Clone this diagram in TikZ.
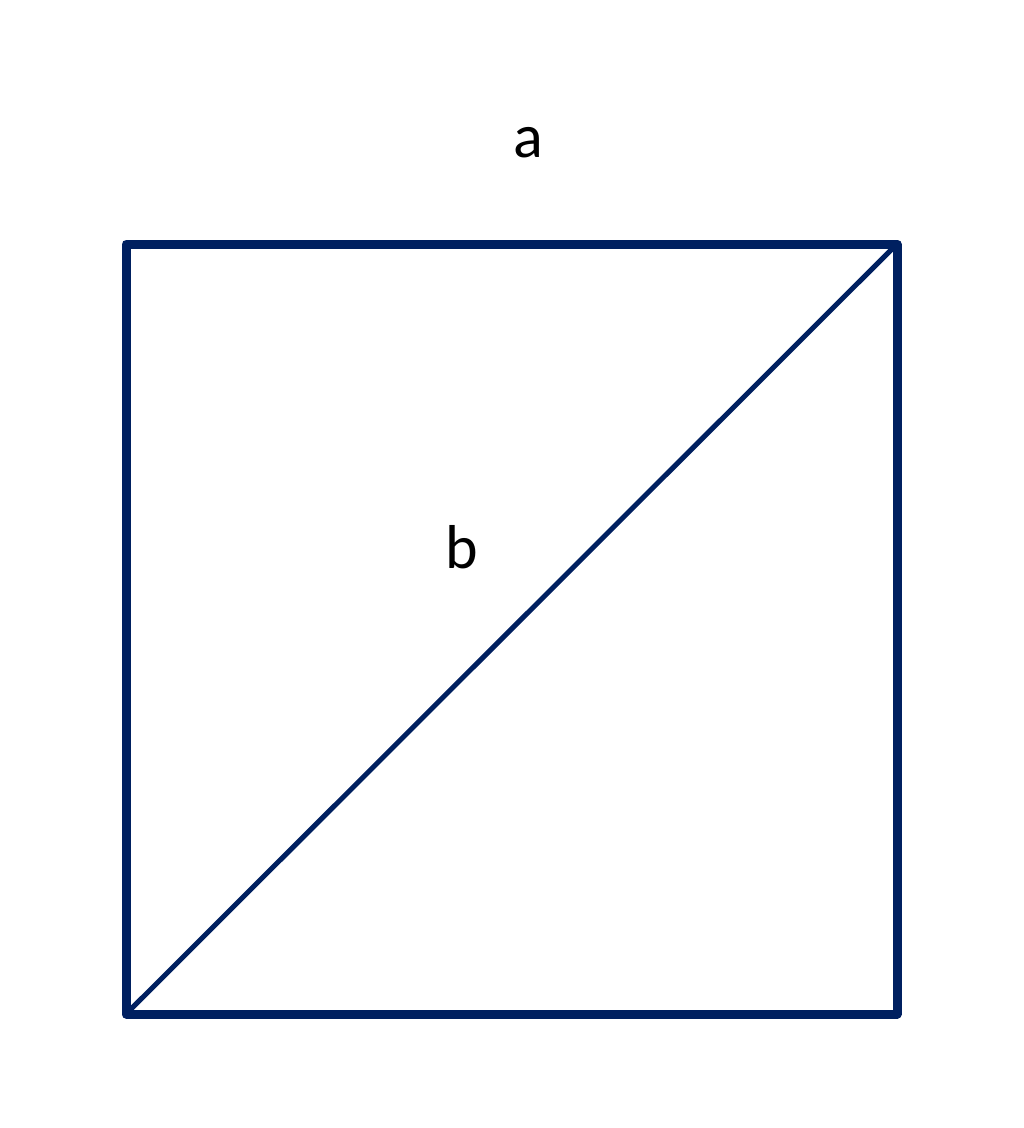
\documentclass[tikz,border=0pt]{standalone}
\usepackage{fontspec}
\setmainfont{Carlito}
\definecolor{navy}{HTML}{002060}
\begin{document}
\begin{tikzpicture}[x=1pt,y=-1pt,
  edge/.style={draw=navy,line width=9pt,line join=round,line cap=round},
  diag/.style={draw=navy,line width=5pt,line cap=round},
  lbl/.style={font=\fontsize{62}{70}\selectfont,text=black,inner sep=0pt,anchor=base}]
\useasboundingbox (0,0) rectangle (1024,1128);
\coordinate (tl) at (126,244);
\coordinate (tr) at (897,244);
\coordinate (br) at (897,1014);
\coordinate (bl) at (126,1014);
\draw[edge] (tl) -- (tr) -- (br) -- (bl) -- cycle;
\draw[diag] (bl) -- (tr);
\node[lbl] (a) at (528,157) {a};
\node[lbl] (b) at (462,568) {b};
\end{tikzpicture}
\end{document}
